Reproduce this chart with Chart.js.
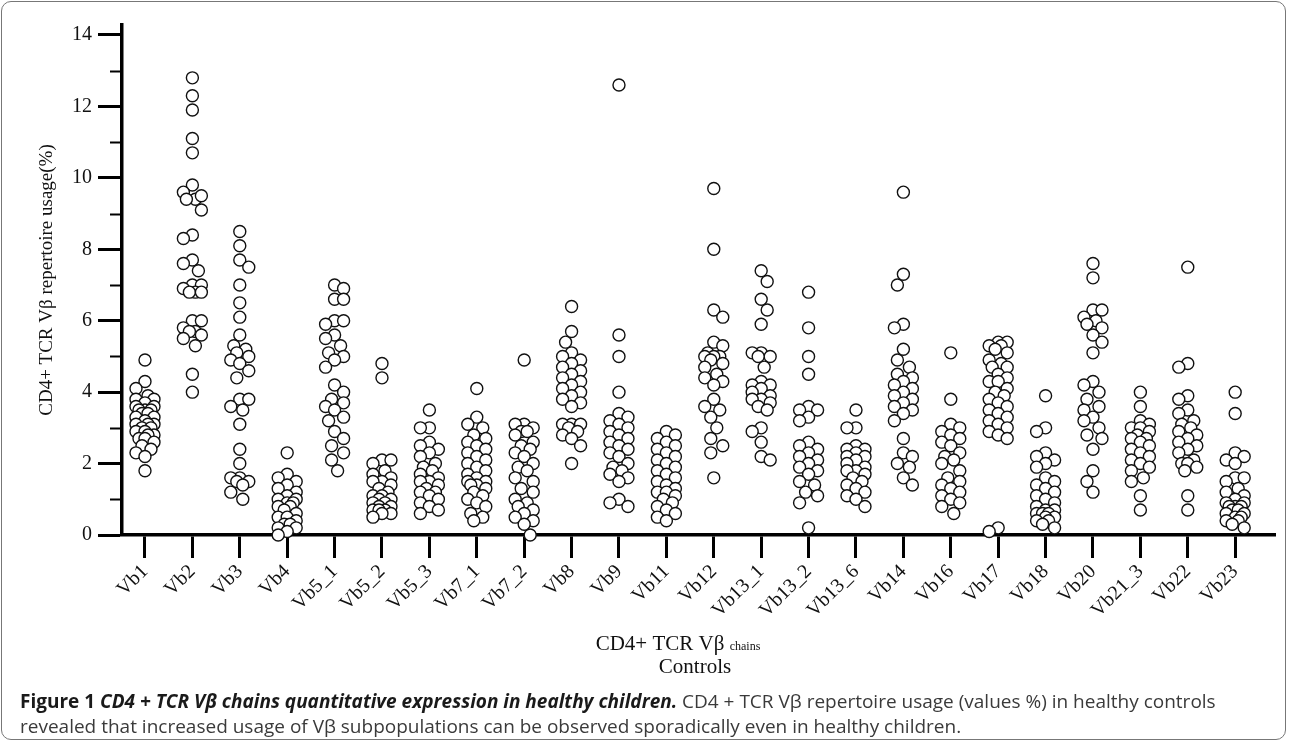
<!DOCTYPE html>
<html>
<head>
<meta charset="utf-8">
<script src="https://cdn.jsdelivr.net/npm/chart.js@4.4.1/dist/chart.umd.min.js"></script>
<style>
  html, body { margin: 0; padding: 0; background: #fff; }
  #wrap { position: relative; width: 1290px; height: 744px; overflow: hidden; }
  #frame { position: absolute; left: 1px; top: 1px; width: 1285px; height: 739px;
           border: 1px solid #777; border-radius: 10px; box-sizing: border-box; }
  #chart { position: absolute; left: 0; top: 0; }
  .cap { position: absolute; left: 20px; white-space: nowrap; font-family: "Open Sans", sans-serif;
         font-size: 19px; color: #3a3a3a; transform-origin: 0 50%; }
  .cap b { color: #1a1a1a; }
</style>
</head>
<body>
<div id="wrap">
  <div id="frame"></div>
  <canvas id="chart" width="1290" height="744"></canvas>
  <div class="cap" id="cap1" style="top:688px"><b>Figure 1</b> <b><i>CD4 + TCR Vβ chains quantitative expression in healthy children.</i></b> CD4 + TCR Vβ repertoire usage (values %) in healthy controls</div>
  <div class="cap" id="cap2" style="top:713px">revealed that increased usage of Vβ subpopulations can be observed sporadically even in healthy children.</div>
</div>
<script>
var categories = ["Vb1", "Vb2", "Vb3", "Vb4", "Vb5_1", "Vb5_2", "Vb5_3", "Vb7_1", "Vb7_2", "Vb8", "Vb9", "Vb11",
  "Vb12", "Vb13_1", "Vb13_2", "Vb13_6", "Vb14", "Vb16", "Vb17", "Vb18", "Vb20", "Vb21_3", "Vb22", "Vb23"];
var yTicks = [0, 1, 2, 3, 4, 5, 6, 7, 8, 9, 10, 11, 12, 13, 14];

var vb1 = [4.9, 4.3, 4.1, 3.9, 3.8, 3.8, 3.7, 3.6, 3.6, 3.5, 3.5, 3.5, 3.4, 3.4, 3.3, 3.3, 3.2, 3.1, 3.1, 3.1, 3.0, 3.0, 2.9, 2.9, 2.8, 2.8, 2.7, 2.7, 2.6, 2.5, 2.4, 2.3, 2.2, 1.8];
var vb2 = [12.8, 12.3, 11.9, 11.1, 10.7, 9.8, 9.6, 9.4, 9.4, 9.5, 9.1, 8.4, 8.3, 7.7, 7.6, 7.4, 7.0, 7.0, 6.9, 6.8, 6.8, 6.8, 6.0, 6.0, 5.8, 5.7, 5.7, 5.6, 5.5, 5.3, 4.5, 4.0];
var vb3 = [8.5, 8.1, 7.7, 7.5, 7.0, 6.5, 6.1, 5.6, 5.3, 5.2, 5.1, 5.0, 4.9, 4.8, 4.6, 4.4, 3.8, 3.8, 3.6, 3.5, 3.1, 2.4, 2.0, 1.6, 1.6, 1.5, 1.5, 1.4, 1.2, 1.0];
var vb4 = [2.3, 1.7, 1.6, 1.5, 1.4, 1.3, 1.2, 1.1, 1.0, 1.0, 0.9, 0.9, 0.8, 0.8, 0.7, 0.6, 0.5, 0.5, 0.4, 0.3, 0.3, 0.2, 0.2, 0.1, 0.0];
var vb5_1 = [7.0, 6.9, 6.6, 6.6, 6.0, 6.0, 5.9, 5.6, 5.5, 5.3, 5.1, 5.0, 4.9, 4.7, 4.2, 4.0, 3.8, 3.7, 3.6, 3.5, 3.3, 3.2, 2.9, 2.7, 2.5, 2.3, 2.1, 1.8];
var vb5_2 = [4.8, 4.4, 2.1, 2.1, 2.0, 1.8, 1.7, 1.6, 1.5, 1.5, 1.4, 1.3, 1.2, 1.1, 1.1, 1.0, 1.0, 0.9, 0.9, 0.8, 0.8, 0.7, 0.7, 0.7, 0.6, 0.6, 0.5];
var vb5_3 = [3.5, 3.0, 3.0, 2.6, 2.5, 2.4, 2.3, 2.2, 2.0, 1.9, 1.8, 1.7, 1.6, 1.5, 1.5, 1.4, 1.3, 1.2, 1.2, 1.1, 1.0, 0.9, 0.8, 0.7, 0.6];
var vb7_1 = [4.1, 3.3, 3.1, 3.0, 2.8, 2.7, 2.6, 2.5, 2.4, 2.3, 2.2, 2.1, 2.0, 1.9, 1.8, 1.7, 1.6, 1.5, 1.5, 1.4, 1.4, 1.3, 1.2, 1.1, 1.0, 0.9, 0.8, 0.6, 0.5, 0.4];
var vb7_2 = [4.9, 3.1, 3.1, 3.0, 2.9, 2.9, 2.8, 2.6, 2.5, 2.4, 2.3, 2.2, 2.0, 1.9, 1.8, 1.6, 1.5, 1.3, 1.2, 1.0, 0.9, 0.8, 0.7, 0.6, 0.5, 0.4, 0.3, 0.0];
var vb8 = [6.4, 5.7, 5.4, 5.1, 5.0, 4.9, 4.8, 4.7, 4.6, 4.5, 4.4, 4.3, 4.2, 4.1, 4.0, 3.9, 3.8, 3.7, 3.6, 3.1, 3.1, 3.1, 3.0, 2.9, 2.8, 2.7, 2.5, 2.0];
var vb9 = [12.6, 5.6, 5.0, 4.0, 3.4, 3.3, 3.2, 3.1, 3.0, 2.9, 2.8, 2.7, 2.6, 2.5, 2.4, 2.3, 2.2, 2.0, 1.9, 1.8, 1.7, 1.6, 1.5, 1.0, 0.9, 0.8];
var vb11 = [2.9, 2.8, 2.7, 2.6, 2.5, 2.4, 2.3, 2.2, 2.1, 2.0, 1.9, 1.8, 1.7, 1.6, 1.5, 1.4, 1.3, 1.2, 1.2, 1.1, 1.0, 0.9, 0.8, 0.7, 0.6, 0.5, 0.4];
var vb12 = [9.7, 8.0, 6.3, 6.1, 5.4, 5.3, 5.1, 5.0, 5.0, 5.0, 4.9, 4.8, 4.7, 4.5, 4.4, 4.3, 4.2, 3.8, 3.6, 3.5, 3.3, 3.0, 2.7, 2.5, 2.3, 1.6];
var vb13_1 = [7.4, 7.1, 6.6, 6.3, 5.9, 5.1, 5.1, 5.0, 5.0, 4.7, 4.3, 4.2, 4.2, 4.1, 4.0, 3.9, 3.8, 3.8, 3.7, 3.6, 3.5, 3.0, 2.9, 2.6, 2.2, 2.1];
var vb13_2 = [6.8, 5.8, 5.0, 4.5, 3.6, 3.5, 3.5, 3.3, 3.2, 2.6, 2.5, 2.4, 2.3, 2.2, 2.1, 2.0, 1.9, 1.8, 1.7, 1.5, 1.4, 1.2, 1.1, 0.9, 0.2];
var vb13_6 = [3.5, 3.0, 3.0, 2.5, 2.4, 2.4, 2.3, 2.2, 2.2, 2.1, 2.0, 1.9, 1.8, 1.8, 1.7, 1.6, 1.5, 1.4, 1.3, 1.2, 1.1, 1.0, 0.8];
var vb14 = [9.6, 7.3, 7.0, 5.9, 5.8, 5.2, 4.9, 4.7, 4.5, 4.4, 4.3, 4.2, 4.1, 4.0, 3.9, 3.8, 3.7, 3.6, 3.5, 3.4, 3.2, 2.7, 2.3, 2.2, 2.0, 1.9, 1.6, 1.4];
var vb16 = [5.1, 3.8, 3.1, 3.0, 2.9, 2.8, 2.7, 2.6, 2.5, 2.3, 2.2, 2.1, 2.0, 1.8, 1.6, 1.5, 1.4, 1.3, 1.2, 1.1, 1.0, 0.9, 0.8, 0.6];
var vb17 = [5.4, 5.4, 5.3, 5.3, 5.2, 5.1, 4.9, 4.8, 4.7, 4.7, 4.5, 4.4, 4.3, 4.3, 4.1, 4.0, 3.9, 3.8, 3.7, 3.6, 3.5, 3.4, 3.3, 3.2, 3.1, 3.0, 2.9, 2.8, 2.7, 0.2, 0.1];
var vb18 = [3.9, 3.0, 2.9, 2.3, 2.2, 2.1, 2.0, 1.9, 1.6, 1.5, 1.4, 1.3, 1.2, 1.1, 1.0, 0.9, 0.8, 0.7, 0.7, 0.6, 0.6, 0.6, 0.5, 0.5, 0.4, 0.4, 0.3, 0.2];
var vb20 = [7.6, 7.2, 6.3, 6.3, 6.1, 6.0, 5.9, 5.8, 5.6, 5.4, 5.1, 4.3, 4.2, 4.0, 3.8, 3.6, 3.5, 3.3, 3.2, 3.0, 2.8, 2.7, 2.4, 1.8, 1.5, 1.2];
var vb21_3 = [4.0, 3.6, 3.2, 3.1, 3.0, 3.0, 2.9, 2.8, 2.7, 2.7, 2.6, 2.5, 2.4, 2.3, 2.2, 2.1, 2.0, 1.9, 1.8, 1.6, 1.5, 1.1, 0.7];
var vb22 = [7.5, 4.8, 4.7, 3.9, 3.8, 3.5, 3.4, 3.2, 3.1, 3.0, 2.9, 2.8, 2.7, 2.6, 2.5, 2.4, 2.3, 2.1, 2.0, 2.0, 1.9, 1.8, 1.1, 0.7];
var vb23 = [4.0, 3.4, 2.3, 2.2, 2.1, 2.0, 1.6, 1.6, 1.5, 1.3, 1.2, 1.1, 1.0, 0.9, 0.9, 0.8, 0.8, 0.8, 0.7, 0.7, 0.6, 0.6, 0.5, 0.5, 0.4, 0.4, 0.3, 0.2];

var seriesValues = [vb1, vb2, vb3, vb4, vb5_1, vb5_2, vb5_3, vb7_1, vb7_2, vb8, vb9, vb11,
  vb12, vb13_1, vb13_2, vb13_6, vb14, vb16, vb17, vb18, vb20, vb21_3, vb22, vb23];

// rough px per unit, only used to spread overlapping dots sideways
var pxX = 47.4, pxY = 35.7;

function swarm(values, idx) {
  var placed = [];
  return values.map(function (v, n) {
    var py = v * pxY;
    var steps = n % 2 ? [0, 3, -3, 6, -6, 9, -9] : [0, -3, 3, -6, 6, -9, 9];
    var best = 0, bestD = -1;
    steps.forEach(function (dx) {
      var dmin = 99;
      placed.forEach(function (p) {
        var d = Math.hypot(p.dx - dx, p.py - py);
        if (d < dmin) dmin = d;
      });
      var score = Math.min(dmin, 12);
      if (score > bestD + 0.01) { bestD = score; best = dx; }
    });
    placed.push({ dx: best, py: py });
    return { x: idx + best / pxX, y: v };
  });
}

var points = [];
seriesValues.forEach(function (vals, i) { points = points.concat(swarm(vals, i)); });

var serif = "'Liberation Serif', 'Times New Roman', serif";

var extras = {
  id: 'extras',
  afterDraw: function (chart) {
    var ctx = chart.ctx, y = chart.scales.y, left = chart.chartArea.left;
    ctx.save();
    // minor ticks on odd values
    ctx.strokeStyle = '#000';
    ctx.lineWidth = 2;
    yTicks.forEach(function (v) {
      if (v % 2 === 0) return;
      var py = Math.round(y.getPixelForValue(v)) + 0.5;
      ctx.beginPath();
      ctx.moveTo(left - 12, py);
      ctx.lineTo(left, py);
      ctx.stroke();
    });
    // x axis title
    ctx.fillStyle = '#111';
    ctx.textBaseline = 'alphabetic';
    ctx.font = '21px ' + serif;
    var main = 'CD4+ TCR V\u03b2 ';
    var w1 = ctx.measureText(main).width;
    ctx.font = '12px ' + serif;
    var w2 = ctx.measureText('chains').width;
    var x0 = 678 - (w1 + w2) / 2;
    ctx.font = '21px ' + serif;
    ctx.textAlign = 'left';
    ctx.fillText(main, x0, 650);
    ctx.font = '12px ' + serif;
    ctx.fillText('chains', x0 + w1, 650);
    ctx.font = '21px ' + serif;
    ctx.textAlign = 'center';
    ctx.fillText('Controls', 695, 673);
    ctx.restore();
  }
};

new Chart('chart', {
  type: 'scatter',
  data: {
    datasets: [{
      data: points,
      pointRadius: 6,
      pointBorderWidth: 1.4,
      pointBorderColor: '#111',
      pointBackgroundColor: '#fff',
      pointHoverRadius: 6,
      clip: false
    }]
  },
  options: {
    responsive: false,
    animation: false,
    events: [],
    layout: { padding: { top: 25, left: 10, right: 15, bottom: 79 } },
    plugins: { legend: { display: false }, tooltip: { enabled: false } },
    scales: {
      x: {
        type: 'linear',
        min: -0.485,
        max: 23.84,
        afterBuildTicks: function (s) {
          s.ticks = categories.map(function (c, i) { return { value: i }; });
        },
        afterFit: function (s) { s.height = 130; },
        ticks: {
          autoSkip: false,
          maxRotation: 45,
          minRotation: 45,
          padding: 2,
          color: '#111',
          font: { family: serif, size: 20 },
          callback: function (v) { return categories[v]; }
        },
        grid: { drawOnChartArea: false, tickLength: 23, tickWidth: 3, tickColor: '#000' },
        border: { width: 3.5, color: '#000' }
      },
      y: {
        min: 0,
        max: 14.28,
        afterBuildTicks: function (s) {
          s.ticks = yTicks.map(function (v) { return { value: v }; });
        },
        afterFit: function (s) { s.width = 112; },
        ticks: {
          padding: 6,
          color: '#111',
          font: { family: serif, size: 20 },
          callback: function (v) { return v % 2 === 0 ? v : ''; }
        },
        grid: {
          drawOnChartArea: false,
          tickLength: 24,
          tickWidth: 3,
          tickColor: function (c) { return c.tick && c.tick.value % 2 === 0 ? '#000' : 'rgba(0,0,0,0)'; }
        },
        border: { width: 3.5, color: '#000' },
        title: {
          display: true,
          text: 'CD4+ TCR V\u03b2 repertoire usage(%)',
          color: '#111',
          font: { family: serif, size: 19 },
          padding: { top: 26, bottom: 0 }
        }
      }
    }
  },
  plugins: [extras]
});

// squeeze caption lines to the reference width
var cap1 = document.getElementById('cap1'), cap2 = document.getElementById('cap2');
var k = 1196 / cap1.offsetWidth;
cap1.style.transform = 'scaleX(' + k + ')';
cap2.style.transform = 'scaleX(' + k + ')';
</script>
</body>
</html>
